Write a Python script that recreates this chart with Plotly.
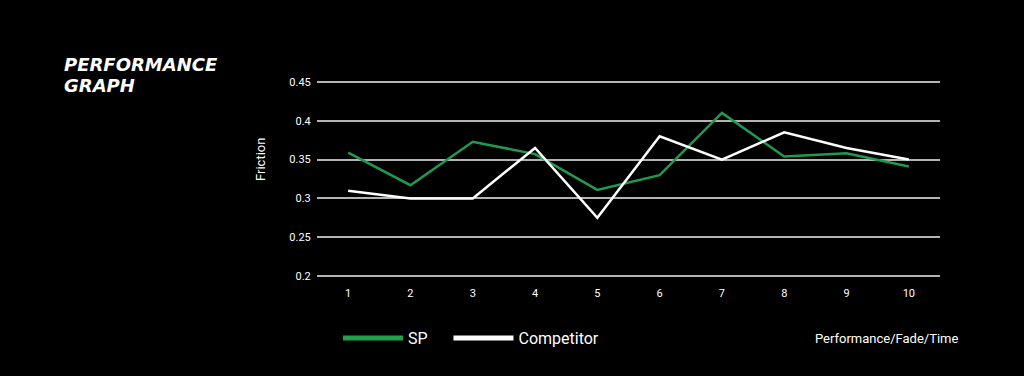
import plotly.graph_objects as go

runs = [1, 2, 3, 4, 5, 6, 7, 8, 9, 10]
sp_values = [0.359, 0.317, 0.373, 0.357, 0.311, 0.330, 0.410, 0.354, 0.358, 0.341]
competitor_values = [0.310, 0.300, 0.300, 0.365, 0.275, 0.380, 0.350, 0.385, 0.365, 0.350]
y_ticks = [0.2, 0.25, 0.3, 0.35, 0.4, 0.45]
y_tick_labels = ["0.2", "0.25", "0.3", "0.35", "0.4", "0.45"]

GREEN = "#1f9a4e"
FONT = "Roboto"

# plot area in pixels (from the reference)
PL, PR, PT, PB = 317, 940, 78, 280
PW, PH = PR - PL, PB - PT


def px(x):
    return (x - PL) / PW


def py(y):
    return 1 - (y - PT) / PH


fig = go.Figure()
fig.add_trace(go.Scatter(x=runs, y=sp_values, mode="lines", name="SP",
                         line=dict(color=GREEN, width=2.5), showlegend=False))
fig.add_trace(go.Scatter(x=runs, y=competitor_values, mode="lines", name="Competitor",
                         line=dict(color="#ffffff", width=2.5), showlegend=False))
# legend entries (thicker swatches, like the reference); trailing nbsp widen the gap
fig.add_trace(go.Scatter(x=[None], y=[None], mode="lines", name="SP\u00a0\u00a0\u00a0\u00a0",
                         line=dict(color="#22a04b", width=5)))
fig.add_trace(go.Scatter(x=[None], y=[None], mode="lines", name="Competitor",
                         line=dict(color="#ffffff", width=5)))

fig.update_layout(
    width=1024, height=376,
    paper_bgcolor="#000000", plot_bgcolor="#000000",
    margin=dict(l=PL, r=1024 - PR, t=PT, b=376 - PB),
    font=dict(family=FONT, color="#ffffff"),
    showlegend=True,
    legend=dict(orientation="h", x=px(338), y=py(338), xanchor="left", yanchor="middle",
                font=dict(size=16, color="#ffffff"), itemwidth=60,
                bgcolor="rgba(0,0,0,0)"),
    xaxis=dict(range=[0.5, 10.5], tickvals=runs, ticktext=[str(r) for r in runs],
               showgrid=False, zeroline=False, showline=False,
               ticks="outside", ticklen=3, tickcolor="rgba(0,0,0,0)",
               tickfont=dict(size=11, color="#ffffff", family=FONT)),
    yaxis=dict(range=[0.195, 0.455], tickvals=y_ticks, ticktext=y_tick_labels,
               showgrid=True, gridcolor="#b3b3b3", gridwidth=1.5,
               zeroline=False, showline=False,
               ticks="outside", ticklen=3, tickcolor="rgba(0,0,0,0)",
               tickfont=dict(size=11, color="#ffffff", family=FONT)),
    annotations=[
        dict(text="PERFORMANCE", xref="paper", yref="paper",
             x=px(62), y=py(64.5), xanchor="left", yanchor="middle",
             showarrow=False, align="left",
             font=dict(size=18, color="#ffffff", family="DejaVu Sans", weight=700, style="italic")),
        dict(text="GRAPH", xref="paper", yref="paper",
             x=px(62), y=py(85.5), xanchor="left", yanchor="middle",
             showarrow=False, align="left",
             font=dict(size=18, color="#ffffff", family="DejaVu Sans", weight=700, style="italic")),
        dict(text="Friction", xref="paper", yref="paper", textangle=-90,
             x=px(260), y=py(160), xanchor="center", yanchor="middle",
             showarrow=False, font=dict(size=13, color="#ffffff", family=FONT)),
        dict(text="Performance/Fade/Time", xref="paper", yref="paper",
             x=px(961), y=py(338), xanchor="right", yanchor="middle",
             showarrow=False, font=dict(size=13, color="#ffffff", family=FONT)),
    ],
)

fig.write_html("out.html", config={"displayModeBar": False},
               post_script="document.body.style.margin='0';document.body.style.background='#000';")
